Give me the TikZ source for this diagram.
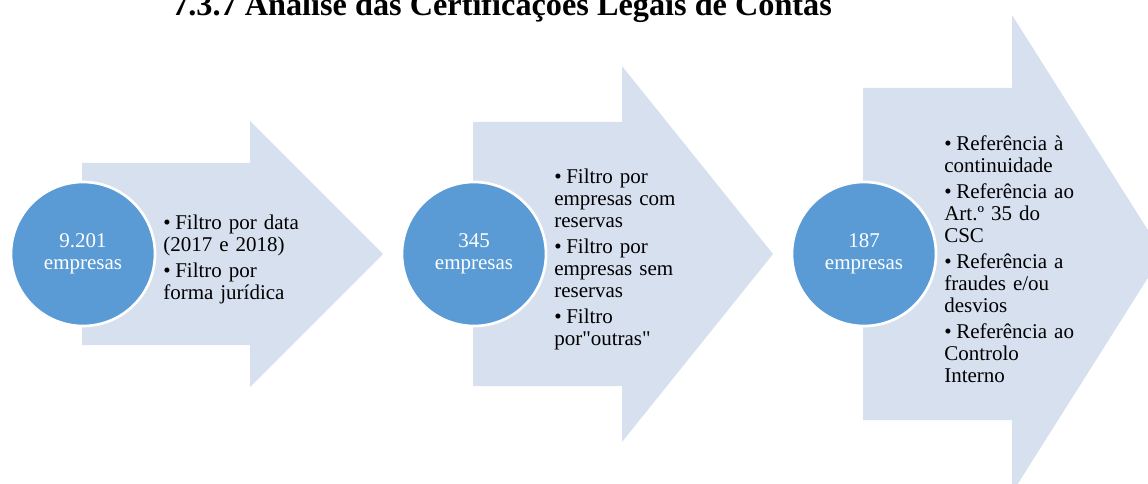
\documentclass[tikz,border=0pt]{standalone}
\usepackage{fontspec}
\setmainfont{Liberation Serif}[Ligatures=TeXOff]
\usepackage{xcolor}
\usetikzlibrary{positioning}
\definecolor{arrowblue}{RGB}{214,224,239}
\definecolor{circblue}{RGB}{91,155,213}
\newcommand{\bitem}[1]{\par\hangindent=9pt\hangafter=1\noindent\makebox[9pt][l]{\textbullet}#1}

\begin{document}
\begin{tikzpicture}[x=0.75pt, y=-0.75pt, node distance=5pt]
	\tikzstyle{arr}=[fill=arrowblue]
	\tikzstyle{circ}=[circle, fill=circblue, draw=white, line width=2pt, minimum size=108pt, inner sep=0pt, text=white, align=center, font=\fontsize{15.75}{16.5}\selectfont]
	\tikzstyle{items}=[inner sep=0pt, text width=112pt, align=left, font=\fontsize{15.75}{16.5}\selectfont, execute at begin node={\setlength{\parskip}{3pt}}]
	\tikzstyle{heading}=[anchor=base west, inner sep=0pt, font=\bfseries\fontsize{24.2}{28}\selectfont]
	
	\useasboundingbox (0,0) rectangle (1148,484);
	\clip (0,0) rectangle (1148,484);
	
	\node[heading] (title) at (172,16) {7.3.7 Análise das Certificações Legais de Contas};
	
	\fill[arr] (82,163) -- (250,163) -- (250,121) -- (383,254) -- (250,387) -- (250,345) -- (82,345) -- cycle;
	\fill[arr] (473,122) -- (622,122) -- (622,66) -- (773,254) -- (622,442) -- (622,386) -- (473,386) -- cycle;
	\fill[arr] (863,88) -- (1012,88) -- (1012,15) -- (1163,254) -- (1012,493) -- (1012,420) -- (863,420) -- cycle;
	
	\node[circ] (c1) at (83,254) {9.201\\empresas};
	\node[circ] (c2) at (474,254) {345\\empresas};
	\node[circ] (c3) at (864,254) {187\\empresas};
	
	\node[items, right=of c1] (t1) {\bitem{Filtro por data\\(2017 e 2018)}\bitem{Filtro por\\forma jurídica}};
	\node[items, right=of c2] (t2) {\bitem{Filtro por\\empresas com\\reservas}\bitem{Filtro por\\empresas sem\\reservas}\bitem{Filtro\\por"outras"}};
	\node[items, right=of c3] (t3) {\bitem{Referência à\\continuidade}\bitem{Referência ao\\Art.º 35 do\\CSC}\bitem{Referência a\\fraudes e/ou\\desvios}\bitem{Referência ao\\Controlo\\Interno}};
\end{tikzpicture}
\end{document}
